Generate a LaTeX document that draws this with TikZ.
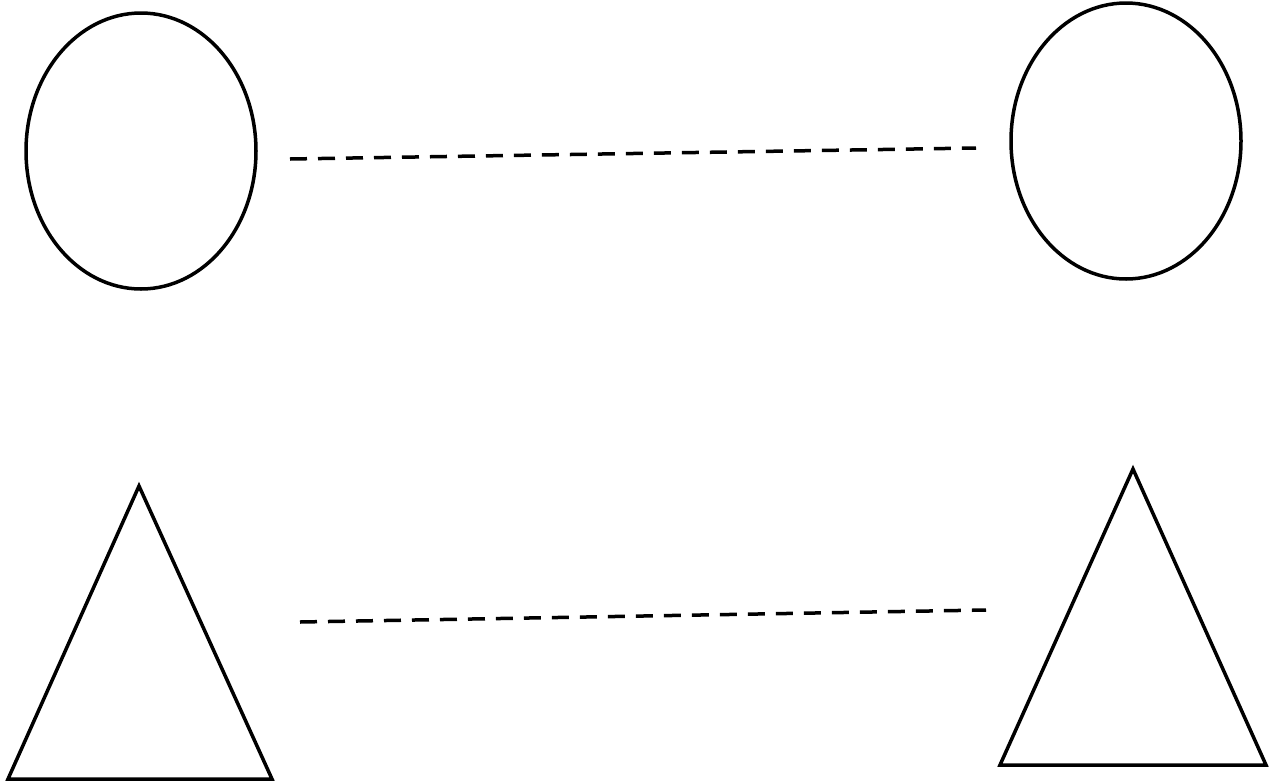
\documentclass[tikz,border=0pt]{standalone}
\usetikzlibrary{shapes.geometric}
\begin{document}
\begin{tikzpicture}[x=1pt,y=-1pt,
  outline/.style={draw=black,line width=3.5pt},
  oval/.style={outline,ellipse,minimum width=230pt,minimum height=276pt,inner sep=0pt},
  link/.style={draw=black,line width=3.5pt,dash pattern=on 17pt off 11pt}]
\useasboundingbox (0,0) rectangle (1275,780);
\node[oval] (e1) at (141,151) {};
\node[oval] (e2) at (1126,141) {};
\coordinate (t1a) at (139,486);
\coordinate (t1b) at (8,779);
\coordinate (t1c) at (272,779);
\coordinate (t2a) at (1133,469);
\coordinate (t2b) at (1000,765);
\coordinate (t2c) at (1266,765);
\draw[outline,line join=miter] (t1a) -- (t1b) -- (t1c) -- cycle;
\draw[outline,line join=miter] (t2a) -- (t2b) -- (t2c) -- cycle;
\coordinate (l1s) at (290,159);
\coordinate (l1e) at (976,148);
\coordinate (l2s) at (300,622);
\coordinate (l2e) at (986,610);
\draw[link] (l1s) -- (l1e);
\draw[link] (l2s) -- (l2e);
\end{tikzpicture}
\end{document}
